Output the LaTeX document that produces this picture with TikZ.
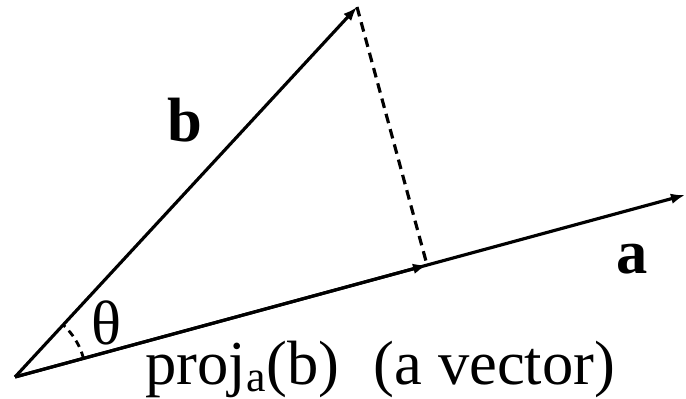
\documentclass[tikz,border=0pt]{standalone}
\usepackage{fontspec}
\setmainfont{Liberation Serif}
\usetikzlibrary{arrows.meta,calc}

\begin{document}
\begin{tikzpicture}[every node/.style={font=\fontsize{35.6}{40}\selectfont, inner sep=0pt}, >={Latex[length=8pt,width=6pt]}, vec/.style={->, line width=1.8pt}]
	\useasboundingbox (0,0) rectangle (13.72,7.98);
	\coordinate (O) at (0.30,0.44);
	\coordinate (B) at (7.14,7.84);
	\coordinate (A) at (13.70,4.08);
	\coordinate (P) at ($(O)!(B)!(A)$);
	\draw[vec] (O) -- (A);
	\draw[vec] (O) -- (B);
	\draw[vec] (O) -- (P);
	\draw[line width=1.8pt, dash pattern=on 5.5pt off 3.5pt] (B) -- (P);
	\draw[line width=1.6pt, dash pattern=on 4pt off 3pt] ($(O)!1.42cm!(A)$) arc[start angle=15.2, end angle=47.2, radius=1.42cm];
	\node (lb) at (3.70,5.58) {\bfseries b};
	\node (la) at (12.64,2.80) {\bfseries a};
	\node (lt) at (2.12,1.52) {θ};
	\node[anchor=base west] (lp) at (2.90,0.28) {proj\textsubscript{a}(b)\hspace{0.55em}(a vector)};
\end{tikzpicture}
\end{document}
